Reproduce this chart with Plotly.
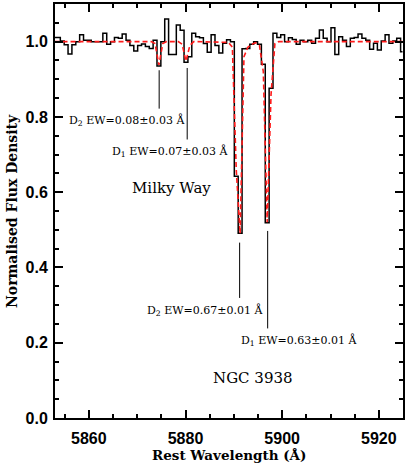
"""
Na D absorption in NGC 3938: spectrum with fitted model
"""
import plotly.graph_objects as go

# binned spectrum (bin centres, Angstrom) and normalised flux
wavelength = [
    5852.9, 5853.7, 5854.5, 5855.3, 5856.1, 5856.9, 5857.7, 5858.5, 5859.3, 5860.1,
    5860.9, 5861.7, 5862.5, 5863.3, 5864.1, 5864.9, 5865.7, 5866.5, 5867.3, 5868.1,
    5868.9, 5869.7, 5870.5, 5871.3, 5872.1, 5872.9, 5873.7, 5874.5, 5875.3, 5876.1,
    5876.9, 5877.7, 5878.5, 5879.3, 5880.1, 5880.9, 5881.7, 5882.5, 5883.3, 5884.1,
    5884.9, 5885.7, 5886.5, 5887.3, 5888.1, 5888.9, 5889.7, 5890.5, 5891.3, 5892.1,
    5892.9, 5893.7, 5894.5, 5895.3, 5896.1, 5896.9, 5897.7, 5898.5, 5899.3, 5900.1,
    5900.9, 5901.7, 5902.5, 5903.3, 5904.1, 5904.9, 5905.7, 5906.5, 5907.3, 5908.1,
    5908.9, 5909.7, 5910.5, 5911.3, 5912.1, 5912.9, 5913.7, 5914.5, 5915.3, 5916.1,
    5916.9, 5917.7, 5918.5, 5919.3, 5920.1, 5920.9, 5921.7, 5922.5, 5923.3, 5924.1,
    5924.9,
]
flux = [
    1.011, 1.011, 1.002, 0.992, 0.967, 0.992, 1.000, 1.018, 1.004, 1.004,
    1.000, 1.000, 1.000, 1.022, 0.993, 1.000, 1.011, 1.009, 1.020, 1.004,
    0.990, 0.975, 0.990, 0.994, 0.987, 0.982, 1.004, 0.935, 1.000, 1.060,
    0.966, 0.966, 1.044, 1.030, 0.945, 0.960, 1.022, 1.013, 1.010, 0.995,
    0.972, 1.018, 0.990, 0.970, 0.996, 1.005, 1.000, 0.642, 0.491, 0.981,
    0.982, 0.993, 1.000, 0.993, 0.940, 0.519, 0.876, 1.022, 1.011, 1.018,
    1.000, 1.010, 1.006, 0.993, 1.004, 1.000, 1.004, 0.996, 1.009, 1.031,
    1.009, 1.000, 1.037, 0.966, 1.013, 1.004, 0.987, 1.009, 1.011, 1.020,
    1.009, 1.004, 0.980, 0.996, 0.978, 1.002, 1.018, 0.996, 1.002, 1.009,
    0.973,
]
model = [
    1.000, 1.000, 1.000, 1.000, 1.000, 1.000, 1.000, 1.000, 1.000, 1.000,
    1.000, 1.000, 1.000, 1.000, 1.000, 1.000, 1.000, 1.000, 1.000, 1.000,
    1.000, 1.000, 1.000, 1.000, 1.000, 1.000, 0.995, 0.938, 0.995, 1.000,
    1.000, 1.000, 1.000, 0.993, 0.948, 0.990, 1.000, 1.000, 1.000, 1.000,
    1.000, 1.000, 1.000, 1.000, 1.000, 0.998, 0.985, 0.660, 0.490, 0.960,
    0.985, 0.993, 0.997, 0.990, 0.920, 0.520, 0.860, 0.995, 1.000, 1.000,
    1.000, 1.000, 1.000, 1.000, 1.000, 1.000, 1.000, 1.000, 1.000, 1.000,
    1.000, 1.000, 1.000, 1.000, 1.000, 1.000, 1.000, 1.000, 1.000, 1.000,
    1.000, 1.000, 1.000, 1.000, 1.000, 1.000, 1.000, 1.000, 1.000, 1.000,
    1.000,
]

# line markers: wavelength, top and bottom of the pointer
line_wl = [5874.55, 5880.35, 5891.2, 5897.0]
line_top = [0.924, 0.930, 0.466, 0.497]
line_bottom = [0.822, 0.740, 0.319, 0.238]

# labels: text, x, y, font size
labels = [
    ("D<sub>2</sub> EW=0.08±0.03 Å", 5867.8, 0.790, 11),
    ("D<sub>1</sub> EW=0.07±0.03 Å", 5876.8, 0.708, 11),
    ("Milky Way", 5877.0, 0.611, 15),
    ("D<sub>2</sub> EW=0.67±0.01 Å", 5884.1, 0.286, 11),
    ("D<sub>1</sub> EW=0.63±0.01 Å", 5903.4, 0.207, 11),
    ("NGC 3938", 5893.9, 0.107, 15),
]

fig = go.Figure()

fig.add_trace(go.Scatter(
    x=wavelength, y=flux,
    mode='lines',
    line=dict(color='black', width=1.5, shape='hvh'),
    name='data'
))

fig.add_trace(go.Scatter(
    x=wavelength, y=model,
    mode='lines',
    line=dict(color='#ff1a1a', width=1.6, dash='5px,3px'),
    name='model'
))

for wl, y0, y1 in zip(line_wl, line_top, line_bottom):
    fig.add_shape(type='line', xref='x', yref='y',
                  x0=wl, x1=wl, y0=y0, y1=y1,
                  line=dict(color='black', width=1))

for text, x, y, size in labels:
    fig.add_annotation(x=x, y=y, text=text, showarrow=False,
                       xanchor='center', yanchor='middle',
                       font=dict(family='DejaVu Serif', size=size, color='black'))

# axis titles as annotations so they sit where the original has them
fig.add_annotation(xref='paper', yref='paper', x=0.5, y=0,
                   yshift=-37, xanchor='center', yanchor='middle',
                   text='Rest Wavelength (Å)', showarrow=False,
                   font=dict(family='DejaVu Serif', size=13.5, color='black', weight='bold'))
fig.add_annotation(xref='paper', yref='paper', x=0, y=0.5,
                   xshift=-43, xanchor='center', yanchor='middle', textangle=-90,
                   text='Normalised Flux Density', showarrow=False,
                   font=dict(family='DejaVu Serif', size=14, color='black', weight='bold'))

axis_style = dict(
    showgrid=False, zeroline=False,
    showline=True, linecolor='black', linewidth=2, mirror='ticks',
    ticks='inside', ticklen=8, tickwidth=1.5, tickcolor='black',
    tickfont=dict(family='Liberation Sans', size=16, color='black', weight='bold'),
)

fig.update_xaxes(range=[5853, 5925], dtick=20,
                 minor=dict(dtick=5, ticks='inside', ticklen=4, tickwidth=1.5, tickcolor='black'),
                 ticklabelstandoff=5, **axis_style)
fig.update_yaxes(range=[0, 1.1], dtick=0.2, tickformat='.1f',
                 minor=dict(dtick=0.05, ticks='inside', ticklen=4, tickwidth=1.5, tickcolor='black'),
                 ticklabelstandoff=2, **axis_style)

fig.update_layout(
    width=407, height=466,
    margin=dict(l=55, r=4, t=2, b=48),
    plot_bgcolor='white', paper_bgcolor='white',
    showlegend=False,
)

# drop the browser's default 8px page margin and the modebar
fig.write_html("out.html", config={'displayModeBar': False},
               post_script="document.body.style.margin='0';")
